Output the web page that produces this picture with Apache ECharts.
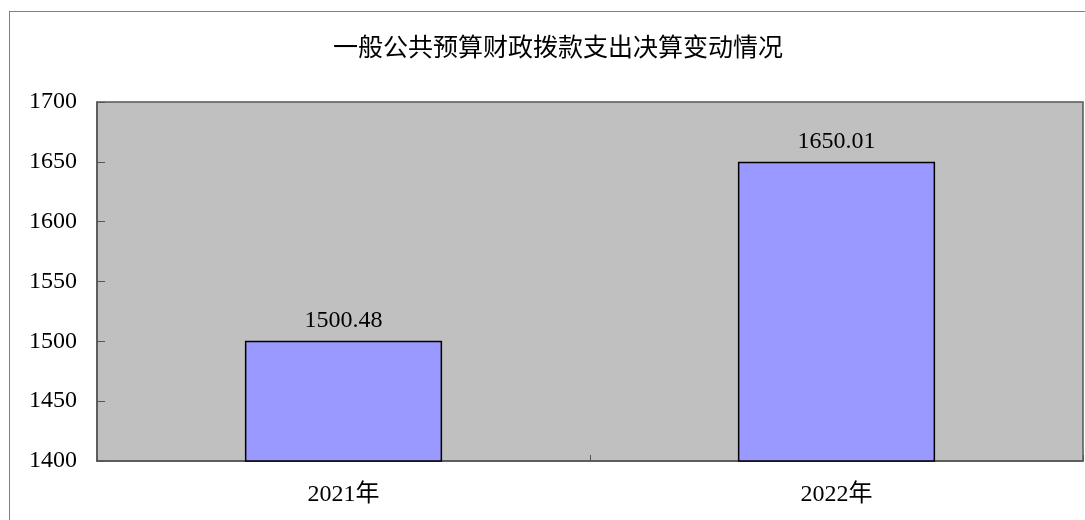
<!DOCTYPE html>
<html><head><meta charset="utf-8">
<script src="https://cdn.jsdelivr.net/npm/echarts@6/dist/echarts.min.js"></script>
<style>html,body{margin:0;padding:0;background:#fff}#c{width:1085px;height:520px}
#frame{position:absolute;left:9px;top:11px;width:1100px;height:520px;border:1px solid #808080;box-sizing:border-box;pointer-events:none}</style>
</head><body><div id="c"></div><div id="frame"></div>
<script>
var title = '一般公共预算财政拨款支出决算变动情况';
var categories = ['2021年', '2022年'];
var values = [1500.48, 1650.01];
var yTicks = {min: 1400, max: 1700, interval: 50};

var FONT = '"Liberation Serif","Noto Sans CJK SC",serif';
var chart = echarts.init(document.getElementById('c'));
chart.setOption({
  animation: false,
  backgroundColor: '#fff',
  title: {
    text: title, left: 553, top: 29, textAlign: 'center',
    textStyle: {fontFamily: '"Noto Sans CJK SC",sans-serif', fontWeight: 'normal', fontSize: 25, color: '#000'}
  },
  grid: {left: 97, top: 102, width: 986, height: 359, show: true, backgroundColor: '#C0C0C0', borderColor: '#555', borderWidth: 1.5},
  xAxis: {
    type: 'category', data: categories,
    axisLine: {show: true, lineStyle: {color: '#555', width: 1.5}},
    axisTick: {show: true, inside: true, length: 6, lineStyle: {color: '#555'}},
    axisLabel: {fontFamily: FONT, fontSize: 24, color: '#000', margin: 22}
  },
  yAxis: {
    type: 'value', min: yTicks.min, max: yTicks.max, interval: yTicks.interval,
    splitLine: {show: false},
    axisLine: {show: true, lineStyle: {color: '#555', width: 1.5}},
    axisTick: {show: true, inside: true, length: 8, lineStyle: {color: '#555'}},
    axisLabel: {fontFamily: FONT, fontSize: 24, color: '#000', margin: 20,
      formatter: function(v){ return String(v); }}
  },
  series: [{
    type: 'bar', data: values, barWidth: '40%',
    itemStyle: {color: '#9999FF', borderColor: '#000', borderWidth: 1.5},
    label: {show: true, position: 'top', distance: 8, fontFamily: FONT, fontSize: 24, color: '#000',
      formatter: function(p){ return p.value.toFixed(2); }}
  }]
});
</script></body></html>
